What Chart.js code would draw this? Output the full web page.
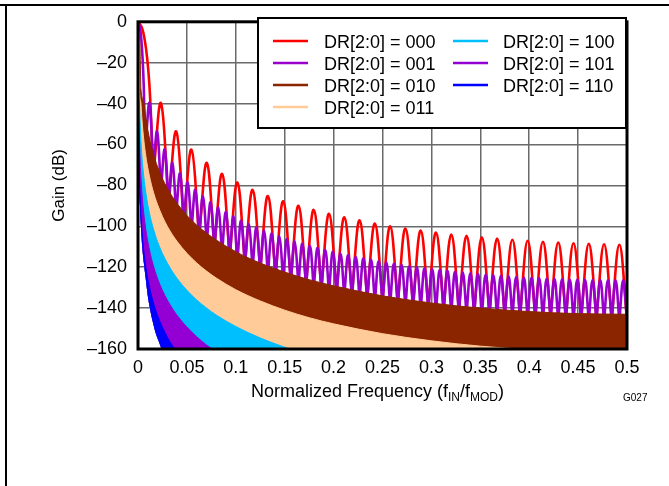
<!DOCTYPE html>
<html>
<head>
<meta charset="utf-8">
<title>Sinc3 filter response</title>
<script src="https://cdn.jsdelivr.net/npm/chart.js@4.4.1/dist/chart.umd.min.js"></script>
<style>
  html, body { margin: 0; padding: 0; background: #fff; }
  #wrap { position: relative; width: 669px; height: 486px; overflow: hidden; }
  #gainChart { position: absolute; left: 0; top: 0; }
  #topRule { position: absolute; left: 0; top: 4px; width: 669px; height: 2px; background: #000; }
  #leftRule { position: absolute; left: 5px; top: 4px; width: 2px; height: 482px; background: #000; }
</style>
</head>
<body>
<div id="wrap">
  <canvas id="gainChart" width="669" height="486"></canvas>
  <div id="topRule"></div>
  <div id="leftRule"></div>
</div>
<script>
// Filter response data, frequency normalized to fMOD, gain in dB

const FONT = "'Liberation Sans', Arial, sans-serif";

const seriesLabels = ['DR[2:0] = 000', 'DR[2:0] = 001', 'DR[2:0] = 010', 'DR[2:0] = 011',
                      'DR[2:0] = 100', 'DR[2:0] = 101', 'DR[2:0] = 110'];
const seriesColors = ['#ff0000', '#9900cc', '#8b2500', '#ffcc99', '#00bfff', '#9400d3', '#0000ff'];

const yTicks = [-160, -140, -120, -100, -80, -60, -40, -20, 0];
const xTicks = [0, 0.05, 0.1, 0.15, 0.2, 0.25, 0.3, 0.35, 0.4, 0.45, 0.5];

// DR 000 - notches every 1/64
const redNotch = 1 / 64;
const redMainFreq = [0, 0.004, 0.007, 0.0095, 0.0117, 0.0135];
const redMainGain = [0, -2.9, -9.3, -18.4, -31.2, -48.8];
const redPeaks = [-39.8, -53.6, -62.5, -69.0, -74.4, -78.6, -82.2, -85.2, -87.8, -90.0,
                  -92.0, -93.9, -95.6, -97.1, -98.6, -100.0, -101.1, -102.1, -103.1, -104.0,
                  -104.7, -105.4, -106.0, -106.6, -107.1, -107.6, -108.0, -108.3, -108.6, -108.8,
                  -109.0];
const redLobeDepth = 36;

// DR 001 - notches every 1/128
const purpleNotch = 1 / 128;
const purpleMainFreq = [0, 0.002, 0.0035, 0.00475, 0.00585, 0.00675];
const purpleMainGain = [0, -2.9, -9.3, -18.4, -31.2, -48.8];
const purplePeaks = [-39.8, -53.7, -62.4, -69.0, -74.2, -78.5, -82.2, -85.4, -88.3, -90.8,
                     -93.1, -95.2, -97.2, -99.0, -100.6, -102.2, -103.6, -105.0, -106.2, -107.4,
                     -108.6, -109.6, -110.6, -111.6, -112.5, -113.4, -114.2, -115.0, -115.7, -116.4,
                     -117.1, -117.7, -118.3, -118.9, -119.5, -120.0, -120.5, -121.0, -121.4, -121.8,
                     -122.2, -122.6, -123.0, -123.3, -123.7, -124.0, -124.2, -124.5, -124.8, -125.0,
                     -125.2, -125.4, -125.6, -125.7, -125.9, -126.0, -126.1, -126.2, -126.3, -126.3,
                     -126.4, -126.4, -126.4];
const purpleLobeDepth = 20;

// DR 010 .. 110 - lobes too dense to separate, read as top edge of each band
const brownFreq = [0, 0.002, 0.003, 0.0056, 0.008, 0.01, 0.0125, 0.015, 0.0175, 0.02, 0.025, 0.03,
                   0.035, 0.04, 0.05, 0.06, 0.07, 0.08, 0.1, 0.125, 0.15, 0.175, 0.2, 0.25, 0.3,
                   0.35, 0.4, 0.45, 0.5];
const brownTop = [0, -12, -33, -38.5, -47.0, -52.8, -58.6, -63.4, -67.4, -70.9, -76.7, -81.4,
                  -85.4, -88.9, -94.7, -99.4, -103.3, -106.7, -112.4, -118.0, -122.4, -126.1, -129.1, -134.0, -137.5,
                  -140.0, -141.7, -142.7, -143.0];

const peachFreq = [0, 0.001, 0.0015, 0.0028, 0.004, 0.005, 0.006, 0.008, 0.01, 0.0125, 0.015, 0.0175,
                   0.02, 0.025, 0.03, 0.035, 0.04, 0.05, 0.06, 0.07, 0.08, 0.1, 0.125, 0.15, 0.175,
                   0.2, 0.25, 0.3, 0.35, 0.4, 0.45, 0.5];
const peachTop = [0, -12, -33, -39, -47.5, -53.3, -58.1, -65.6, -71.4, -77.2, -82.0, -86.0,
                  -89.4, -95.2, -100.0, -104.0, -107.4, -113.2, -117.9, -121.9, -125.3, -131.0, -136.5, -141.0, -144.7,
                  -147.7, -152.5, -156.0, -158.6, -160.3, -161.2, -161.6];

const skyFreq = [0, 0.0005, 0.00075, 0.0014, 0.002, 0.003, 0.004, 0.005, 0.006, 0.008, 0.01, 0.0125,
                 0.015, 0.0175, 0.02, 0.025, 0.03, 0.035, 0.04, 0.05, 0.06, 0.07, 0.08, 0.1, 0.125,
                 0.15, 0.175];
const skyTop = [0, -12, -33, -39, -47.5, -58.1, -65.6, -71.4, -76.1, -83.6, -89.5, -95.3,
                -100.0, -104.0, -107.5, -113.3, -118.0, -122.0, -125.5, -131.3, -136.0, -139.9, -143.4, -149.0, -154.6,
                -159.1, -162.7];

const violetFreq = [0, 0.00025, 0.000375, 0.0007, 0.001, 0.0015, 0.002, 0.003, 0.004, 0.005, 0.006,
                    0.008, 0.01, 0.0125, 0.015, 0.0175, 0.02, 0.025, 0.03, 0.035, 0.04, 0.05, 0.06,
                    0.07, 0.08];
const violetTop = [0, -12, -33, -39, -47.5, -58.1, -65.6, -76.1, -83.6, -89.5, -94.2,
                   -101.7, -107.5, -113.3, -118.1, -122.1, -125.6, -131.4, -136.1, -140.1, -143.6, -149.3, -154.0,
                   -158.0, -161.4];

const blueFreq = [0, 0.000125, 0.0002, 0.00035, 0.0005, 0.001, 0.0015, 0.002, 0.003, 0.004, 0.005,
                  0.006, 0.008, 0.01, 0.0125, 0.015, 0.0175, 0.02, 0.025, 0.03, 0.035, 0.04];
const blueTop = [0, -12, -33, -39, -47.5, -65.6, -76.1, -83.6, -94.2, -101.7, -107.5,
                 -112.3, -119.8, -125.6, -131.4, -136.1, -140.1, -143.6, -149.4, -154.2, -158.2, -161.6];

// lower edge of the coloured mass (white below it at bottom left)
const floorFreq = [0, 0.0005, 0.001, 0.002, 0.003, 0.004, 0.006, 0.008, 0.01, 0.0125, 0.0153,
                   0.018, 0.021, 0.024, 0.03, 0.5];
const floorGain = [-45, -60, -72, -90, -100, -108, -118, -126, -134, -141, -147,
                   -152, -156, -160, -170, -170];

// build helpers
function toPoints(freq, gain) {
    return freq.map((f, i) => ({ x: f, y: gain[i] }));
}

// main lobe, then each notch (doubled so the line comes to a point) and the side-lobe peak after it
function lobePoints(mainFreq, mainGain, peaks, notch, depth) {
    const pts = toPoints(mainFreq, mainGain);
    for (let k = 1; k <= peaks.length + 1; k++) {
        const left = peaks[k - 2];
        const right = peaks[k - 1];
        const low = Math.min(left !== undefined ? left : right, right !== undefined ? right : left) - depth;
        pts.push({ x: k * notch, y: low }, { x: k * notch, y: low });
        if (k <= peaks.length) pts.push({ x: (k + 0.5) * notch, y: peaks[k - 1] });
    }
    return pts;
}

const FLOOR_INDEX = 7;

function bandDataset(i, freq, top, order) {
    return {
        label: seriesLabels[i],
        data: toPoints(freq, top),
        borderColor: seriesColors[i],
        backgroundColor: seriesColors[i],
        borderWidth: 1,
        pointRadius: 0,
        cubicInterpolationMode: 'monotone',
        fill: FLOOR_INDEX,
        order: order
    };
}

const datasets = [
    {
        label: seriesLabels[0],
        data: lobePoints(redMainFreq, redMainGain, redPeaks, redNotch, redLobeDepth),
        borderColor: seriesColors[0],
        borderWidth: 2.6,
        pointRadius: 0,
        tension: 0.4,
        fill: false,
        order: 8
    },
    {
        label: seriesLabels[1],
        data: lobePoints(purpleMainFreq, purpleMainGain, purplePeaks, purpleNotch, purpleLobeDepth),
        borderColor: seriesColors[1],
        borderWidth: 2.6,
        pointRadius: 0,
        tension: 0.4,
        fill: false,
        order: 7
    },
    bandDataset(2, brownFreq, brownTop, 6),
    bandDataset(3, peachFreq, peachTop, 5),
    bandDataset(4, skyFreq, skyTop, 4),
    bandDataset(5, violetFreq, violetTop, 3),
    bandDataset(6, blueFreq, blueTop, 2),
    {
        label: 'floor',
        data: toPoints(floorFreq, floorGain),
        borderColor: 'rgba(0,0,0,0)',
        borderWidth: 0,
        pointRadius: 0,
        cubicInterpolationMode: 'monotone',
        fill: false,
        order: 9
    }
];

// plot frame, legend box, x title with subscripts, figure id
const decorations = {
    id: 'decorations',
    afterDatasetsDraw(chart) {
        const { ctx, chartArea: a } = chart;
        ctx.save();
        ctx.strokeStyle = '#000';
        ctx.lineWidth = 3;
        ctx.strokeRect(a.left, a.top, a.right - a.left, a.bottom - a.top);
        ctx.restore();
    },
    afterDraw(chart) {
        const { ctx, chartArea: a } = chart;
        ctx.save();

        // legend
        ctx.fillStyle = '#fff';
        ctx.fillRect(258, 18, 368, 110);
        ctx.strokeStyle = '#000';
        ctx.lineWidth = 2;
        ctx.strokeRect(258, 18, 368, 110);
        const rows = [41, 63, 85, 107];
        const lineX = [273, 453];
        const textX = [324, 503];
        ctx.font = '18px ' + FONT;
        ctx.textAlign = 'left';
        ctx.textBaseline = 'alphabetic';
        seriesLabels.forEach((label, i) => {
            const col = i < 4 ? 0 : 1;
            const row = i < 4 ? i : i - 4;
            ctx.strokeStyle = seriesColors[i];
            ctx.lineWidth = 2.7;
            ctx.beginPath();
            ctx.moveTo(lineX[col], rows[row]);
            ctx.lineTo(lineX[col] + 35, rows[row]);
            ctx.stroke();
            ctx.fillStyle = '#000';
            ctx.fillText(label, textX[col], rows[row] + 6.5);
        });

        // x axis title: Normalized Frequency (fIN/fMOD)
        const parts = [['Normalized Frequency (f', false], ['IN', true], ['/f', false], ['MOD', true], [')', false]];
        const big = '18px ' + FONT;
        const small = '12px ' + FONT;
        let total = 0;
        parts.forEach(([t, sub]) => {
            ctx.font = sub ? small : big;
            total += ctx.measureText(t).width;
        });
        let x = (a.left + a.right) / 2 - 5 - total / 2;
        const base = 397;
        ctx.fillStyle = '#000';
        parts.forEach(([t, sub]) => {
            ctx.font = sub ? small : big;
            ctx.fillText(t, x, sub ? base + 4 : base);
            x += ctx.measureText(t).width;
        });

        // figure id
        ctx.font = '10px ' + FONT;
        ctx.fillText('G027', 623, 401);
        ctx.restore();
    }
};

new Chart(document.getElementById('gainChart').getContext('2d'), {
    type: 'line',
    data: { datasets: datasets },
    options: {
        responsive: false,
        animation: false,
        devicePixelRatio: 1,
        layout: { padding: { left: 0, top: 19, right: 42, bottom: 0 } },
        plugins: {
            legend: { display: false },
            tooltip: { enabled: false }
        },
        scales: {
            x: {
                type: 'linear',
                min: 0,
                max: 0.5,
                afterBuildTicks: scale => { scale.ticks = xTicks.map(v => ({ value: v })); },
                ticks: {
                    padding: 8,
                    maxRotation: 0,
                    autoSkip: false,
                    color: '#000',
                    font: { family: FONT, size: 18 },
                    callback: v => String(+v.toFixed(2))
                },
                grid: { color: '#6a6a6a', lineWidth: 1.5, drawTicks: false },
                border: { display: false },
                afterFit: scale => { scale.height = 137; }
            },
            y: {
                type: 'linear',
                min: -160,
                max: 0,
                afterBuildTicks: scale => { scale.ticks = yTicks.map(v => ({ value: v })); },
                ticks: {
                    padding: 11,
                    color: '#000',
                    font: { family: FONT, size: 18 },
                    callback: v => v < 0 ? '\u2013' + Math.abs(v) : String(v)
                },
                grid: { color: '#6a6a6a', lineWidth: 1.5, drawTicks: false },
                border: { display: false },
                title: {
                    display: true,
                    text: 'Gain (dB)',
                    color: '#000',
                    font: { family: FONT, size: 17 },
                    padding: { top: 49, bottom: 0 }
                },
                afterFit: scale => { scale.width = 138; }
            }
        }
    },
    plugins: [decorations]
});
</script>
</body>
</html>
